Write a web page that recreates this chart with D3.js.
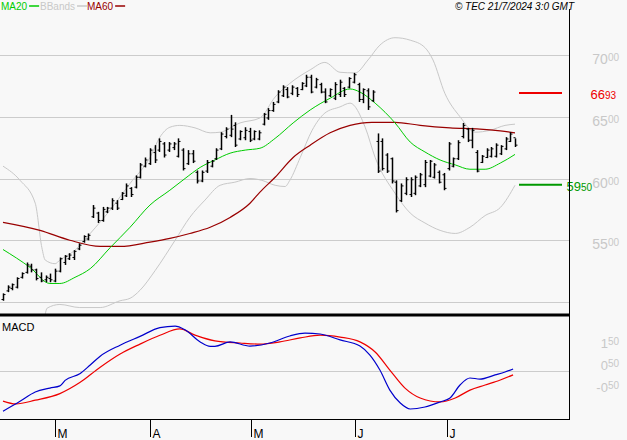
<!DOCTYPE html>
<html><head><meta charset="utf-8">
<script src="https://cdn.jsdelivr.net/npm/d3@7"></script>
<style>body{margin:0;background:#f8f8f8}svg{display:block;font-family:"Liberation Sans",Arial,sans-serif}</style>
</head><body><svg id="c" width="627" height="440"></svg>
<script>
const highs=[5070,5135,5150,5200,5240,5320,5310,5270,5240,5215,5230,5270,5360,5380,5395,5420,5475,5540,5555,5785,5730,5770,5770,5840,5825,5890,5960,5930,6025,6125,6170,6245,6270,6325,6295,6295,6295,6325,6245,6230,6230,6065,6065,6150,6150,6245,6375,6415,6515,6455,6390,6415,6410,6390,6390,6530,6570,6620,6715,6755,6740,6755,6740,6780,6840,6840,6815,6775,6730,6730,6780,6800,6740,6820,6855,6775,6730,6730,6715,6365,6325,6205,6170,5985,5960,6010,6010,6025,6045,6150,6150,6125,6065,6045,6295,6170,6310,6450,6410,6410,6230,6190,6245,6255,6285,6270,6335,6375,6325];
const lows=[5010,5080,5095,5110,5190,5230,5240,5175,5160,5160,5160,5160,5240,5300,5340,5340,5420,5480,5500,5680,5640,5650,5720,5745,5745,5825,5850,5850,5920,6000,6090,6110,6125,6215,6170,6215,6230,6170,6065,6110,6125,5960,5970,6045,6090,6150,6230,6325,6335,6255,6310,6310,6295,6310,6310,6430,6475,6540,6610,6660,6650,6675,6660,6715,6740,6690,6730,6690,6610,6660,6635,6660,6660,6730,6770,6620,6610,6555,6620,6045,6065,6045,5960,5725,5810,5865,5850,5865,5930,5930,6010,6000,5960,5905,6065,6090,6150,6325,6295,6245,6050,6125,6165,6170,6170,6190,6230,6295,6255];
const opens=[5020,5090,5110,5120,5200,5240,5290,5260,5200,5180,5190,5170,5250,5320,5350,5360,5430,5490,5510,5690,5720,5660,5730,5760,5800,5830,5860,5920,5930,6010,6100,6120,6210,6230,6280,6230,6250,6180,6230,6120,6200,6050,5980,6060,6100,6160,6240,6340,6350,6430,6320,6330,6380,6320,6320,6440,6490,6550,6620,6670,6720,6690,6730,6720,6750,6820,6740,6760,6700,6670,6650,6680,6730,6740,6780,6760,6640,6710,6630,6300,6300,6190,6160,5970,5820,5880,5870,5880,5940,5950,6020,6010,6050,6030,6080,6100,6160,6340,6400,6310,6210,6130,6170,6180,6180,6200,6240,6300,6330];
const closes=[5060,5120,5140,5190,5230,5300,5260,5190,5170,5200,5180,5250,5350,5370,5380,5410,5460,5530,5540,5760,5660,5750,5760,5820,5760,5880,5940,5870,6010,6110,6150,6230,6150,6300,6190,6280,6280,6300,6080,6200,6140,5980,6050,6130,6140,6230,6360,6400,6400,6270,6380,6390,6310,6380,6370,6520,6550,6600,6700,6740,6660,6740,6680,6770,6820,6700,6800,6700,6620,6720,6760,6780,6680,6810,6840,6640,6720,6580,6700,6060,6080,6060,5980,5740,5940,5990,5990,6010,6030,6130,6140,6110,5970,5920,6280,6160,6290,6430,6310,6390,6060,6180,6230,6240,6270,6260,6320,6360,6270];
const ma20=[[0,5425],[5.7,5280],[9.9,5150],[12,5150],[15.2,5200],[18.4,5270],[22.6,5440],[26.8,5605],[31,5785],[35.2,5905],[38.4,6000],[41.6,6090],[44.7,6150],[47.9,6205],[51.1,6230],[54.2,6245],[57.4,6325],[61.2,6450],[64.8,6555],[69,6650],[73.2,6725],[75.3,6700],[78.5,6610],[82.7,6450],[85.9,6295],[89,6215],[92.2,6150],[95.4,6110],[98.5,6075],[101.7,6075],[104.9,6125],[108,6195]];
const ma60=[[0,5645],[7.8,5580],[14.1,5500],[20.5,5450],[24.7,5450],[31,5485],[35.2,5515],[39.4,5555],[43.7,5605],[47.9,5685],[52.1,5800],[54.2,5890],[57.4,6010],[61.2,6170],[64.8,6270],[69,6370],[73.2,6430],[77.8,6455],[82.7,6455],[88,6430],[94.3,6410],[100.6,6400],[104.9,6385],[108,6370]];
const bbUp=[[0,6100],[3.6,5985],[6.8,5800],[8.2,5440],[8.9,5340],[11,5310],[12,5340],[15.2,5420],[18.4,5555],[22.6,5745],[26.8,5960],[31,6170],[33.1,6335],[35.2,6415],[37.3,6430],[40.5,6410],[43.7,6370],[45.8,6375],[50,6450],[54.2,6490],[57.4,6660],[60.5,6770],[64.8,6880],[67.9,6940],[71.1,6860],[74.3,6855],[77,6960],[79.5,7080],[82.7,7140],[85.9,7120],[89,7060],[90.7,6960],[93.2,6690],[96.4,6500],[99.6,6375],[102.7,6390],[105.9,6430],[108,6440]];
const bbLow=[[8.9,4900],[9.3,4950],[12,4980],[16.2,4955],[20.5,4955],[24.7,5010],[26.8,5030],[28.9,5095],[32.1,5255],[36.3,5500],[39.4,5685],[42.6,5825],[45.8,5945],[48.9,5970],[52.1,6000],[54.6,5985],[57.4,5945],[59.5,5935],[60.5,5985],[62.7,6170],[65.2,6390],[67.9,6530],[71.1,6580],[73.2,6610],[76.4,6415],[78.5,6170],[82.7,5880],[85.9,5720],[89,5640],[92.2,5580],[95.4,5555],[98.5,5605],[101.7,5700],[104.9,5765],[108,5945]];
const macd=[[0,-1.6],[3.6,-1.15],[6.8,-0.73],[9.9,-0.55],[12,-0.45],[13.1,-0.2],[16.2,0.1],[18.4,0.5],[20.5,0.9],[24.7,1.4],[28.9,1.8],[33.1,2.2],[36.3,2.27],[38.4,2.1],[41.6,1.55],[43.7,1.35],[44.7,1.35],[47.9,1.55],[52.1,1.36],[56.3,1.5],[60.5,1.82],[63.7,1.95],[66.9,1.91],[71.1,1.64],[75.3,1.36],[77.4,0.95],[79.5,0.27],[81.6,-0.64],[83.8,-1.23],[85.9,-1.5],[89,-1.41],[92.2,-1.18],[94.3,-1.0],[96.4,-0.41],[98.5,-0.09],[100.6,-0.14],[103.8,0.05],[105.9,0.18],[107.6,0.32]];
const signal=[[0,-1.14],[2.7,-1.27],[6.8,-1.1],[12,-0.8],[16.2,-0.3],[20.5,0.4],[24.7,1.0],[28.9,1.45],[33.1,1.85],[37.3,2.14],[40.5,1.86],[44.7,1.6],[50,1.5],[54.2,1.45],[58.4,1.55],[62.7,1.73],[66.9,1.86],[71.1,1.77],[75.3,1.55],[78.5,1.09],[81.6,0.27],[84.8,-0.55],[88,-1.0],[92.2,-1.18],[95.4,-1.0],[98.5,-0.64],[101.7,-0.41],[104.9,-0.18],[107.6,0.05]];
const priceGrid=[7000,6500,6000,5500,5000];
const priceLabels=[7000,6500,6000,5500];
const macdTicks=[1.5,0.5,-0.5];
const macdGrid=[0.25];
const monthTicks=[[11,"M"],[31,"A"],[52.3,"M"],[74.3,"J"],[93.7,"J"]];
const levelHigh=6693, levelLow=5950;

const svg=d3.select("#c");
svg.append("rect").attr("width",627).attr("height",440).attr("fill","#f8f8f8");
const x=d3.scaleLinear().domain([0,108]).range([3,515]);
const y=d3.scaleLinear().domain([5000,7000]).range([302,55]);
const ym=d3.scaleLinear().domain([-0.5,1.5]).range([387,343]);
const main=svg.append("g");
main.append("clipPath").attr("id","cp").append("rect").attr("x",0).attr("y",20).attr("width",569).attr("height",294);
main.append("clipPath").attr("id","cm").append("rect").attr("x",0).attr("y",317).attr("width",569).attr("height",101);
main.selectAll(".g").data(priceGrid).join("line").attr("x1",0).attr("x2",569).attr("y1",d=>Math.round(y(d))+0.5).attr("y2",d=>Math.round(y(d))+0.5).attr("stroke","#cccccc");
function lab(g,v,sx,yy,col){const s=(v<0?"-":"")+Math.abs(v).toFixed(2).replace(".","");const t=g.append("text").attr("x",sx).attr("y",yy).attr("fill",col).attr("text-anchor","end");
 t.append("tspan").attr("font-size",13).text(s.slice(0,-2));t.append("tspan").attr("font-size",10).attr("dy",-3).text(s.slice(-2));}
priceLabels.forEach(v=>{const s=String(v);const t=svg.append("text").attr("x",619).attr("y",y(v)+9).attr("fill","#c8c8c8").attr("text-anchor","end");
 t.append("tspan").attr("font-size",14).text(s.slice(0,2));t.append("tspan").attr("font-size",10).attr("dy",-3).text(s.slice(2));});
const line=d3.line().x(d=>x(d[0])).y(d=>y(d[1])).curve(d3.curveMonotoneX);
const cl=main.append("g").attr("clip-path","url(#cp)");
cl.append("path").attr("d",line(bbUp)).attr("fill","none").attr("stroke","#c8c8c8");
cl.append("path").attr("d",line(bbLow)).attr("fill","none").attr("stroke","#c8c8c8");
cl.append("path").attr("d",line(ma60)).attr("fill","none").attr("stroke","#990000").attr("stroke-width",1.2);
cl.append("path").attr("d",line(ma20)).attr("fill","none").attr("stroke","#00cc00").attr("stroke-width",1);
const bars=cl.selectAll(".b").data(highs.map((h,i)=>({i,h,l:lows[i],o:opens[i],c:closes[i]}))).join("g");
bars.append("line").attr("x1",d=>Math.round(x(d.i))+0.5).attr("x2",d=>Math.round(x(d.i))+0.5).attr("y1",d=>y(d.h)).attr("y2",d=>y(d.l)).attr("stroke","#000").attr("stroke-width",1.5);
bars.append("line").attr("x1",d=>Math.round(x(d.i))-1.5).attr("x2",d=>Math.round(x(d.i))+0.5).attr("y1",d=>y(d.o)).attr("y2",d=>y(d.o)).attr("stroke","#000");
bars.append("line").attr("x1",d=>Math.round(x(d.i))+0.5).attr("x2",d=>Math.round(x(d.i))+2.5).attr("y1",d=>y(d.c)).attr("y2",d=>y(d.c)).attr("stroke","#000");
svg.append("line").attr("x1",519).attr("x2",562).attr("y1",y(levelHigh)).attr("y2",y(levelHigh)).attr("stroke","#ee0000").attr("stroke-width",2);
svg.append("line").attr("x1",519).attr("x2",562).attr("y1",y(levelLow)).attr("y2",y(levelLow)).attr("stroke","#009900").attr("stroke-width",2);
{const s=String(levelHigh);const t=svg.append("text").attr("x",616).attr("y",y(levelHigh)+6).attr("fill","#ee0000").attr("text-anchor","end");
 t.append("tspan").attr("font-size",13).text(s.slice(0,2));t.append("tspan").attr("font-size",10).text(s.slice(2));}
{const s=String(levelLow);const t=svg.append("text").attr("x",592).attr("y",y(levelLow)+6).attr("fill","#009900").attr("text-anchor","end");
 t.append("tspan").attr("font-size",13).text(s.slice(0,2));t.append("tspan").attr("font-size",10).text(s.slice(2));}
svg.selectAll(".mg").data(macdGrid).join("line").attr("x1",0).attr("x2",569).attr("y1",d=>Math.round(ym(d))+0.5).attr("y2",d=>Math.round(ym(d))+0.5).attr("stroke","#cccccc");
macdTicks.forEach(v=>lab(svg,v,619,ym(v)+5,"#c8c8c8"));
const ml=d3.line().x(d=>x(d[0])).y(d=>ym(d[1])).curve(d3.curveMonotoneX);
const mc=svg.append("g").attr("clip-path","url(#cm)");
mc.append("path").attr("d",ml(signal)).attr("fill","none").attr("stroke","#ee0000").attr("stroke-width",1.2);
mc.append("path").attr("d",ml(macd)).attr("fill","none").attr("stroke","#0000cc").attr("stroke-width",1.2);
svg.append("text").attr("x",2).attr("y",331).attr("font-size",11).attr("fill","#000").text("MACD");
svg.append("line").attr("x1",569.5).attr("x2",569.5).attr("y1",9).attr("y2",420).attr("stroke","#000");
svg.append("line").attr("x1",0).attr("x2",570).attr("y1",315).attr("y2",315).attr("stroke","#000").attr("stroke-width",3);
svg.append("line").attr("x1",0).attr("x2",570).attr("y1",419.5).attr("y2",419.5).attr("stroke","#000");
monthTicks.forEach(([i,t])=>{const xx=Math.round(x(i))+0.5;
 svg.append("line").attr("x1",xx).attr("x2",xx).attr("y1",419).attr("y2",437).attr("stroke","#000");
 svg.append("text").attr("x",xx+2).attr("y",438).attr("font-size",12).attr("fill","#000").text(t);});
const lg=[["MA20","#00cc00",1],["BBands","#c8c8c8",40],["MA60","#990000",87]];
lg.forEach(([t,c,xx])=>{const tt=svg.append("text").attr("x",xx).attr("y",10).attr("font-size",10).attr("fill",c).text(t);
 const w=tt.node().getComputedTextLength();svg.append("line").attr("x1",xx+w+2).attr("x2",xx+w+12).attr("y1",6).attr("y2",6).attr("stroke",c).attr("stroke-width",1.5);});
svg.append("text").attr("x",574).attr("y",10).attr("font-size",10).attr("font-style","italic").attr("text-anchor","end").attr("fill","#000").text("© TEC 21/7/2024 3:0 GMT");
</script></body></html>
